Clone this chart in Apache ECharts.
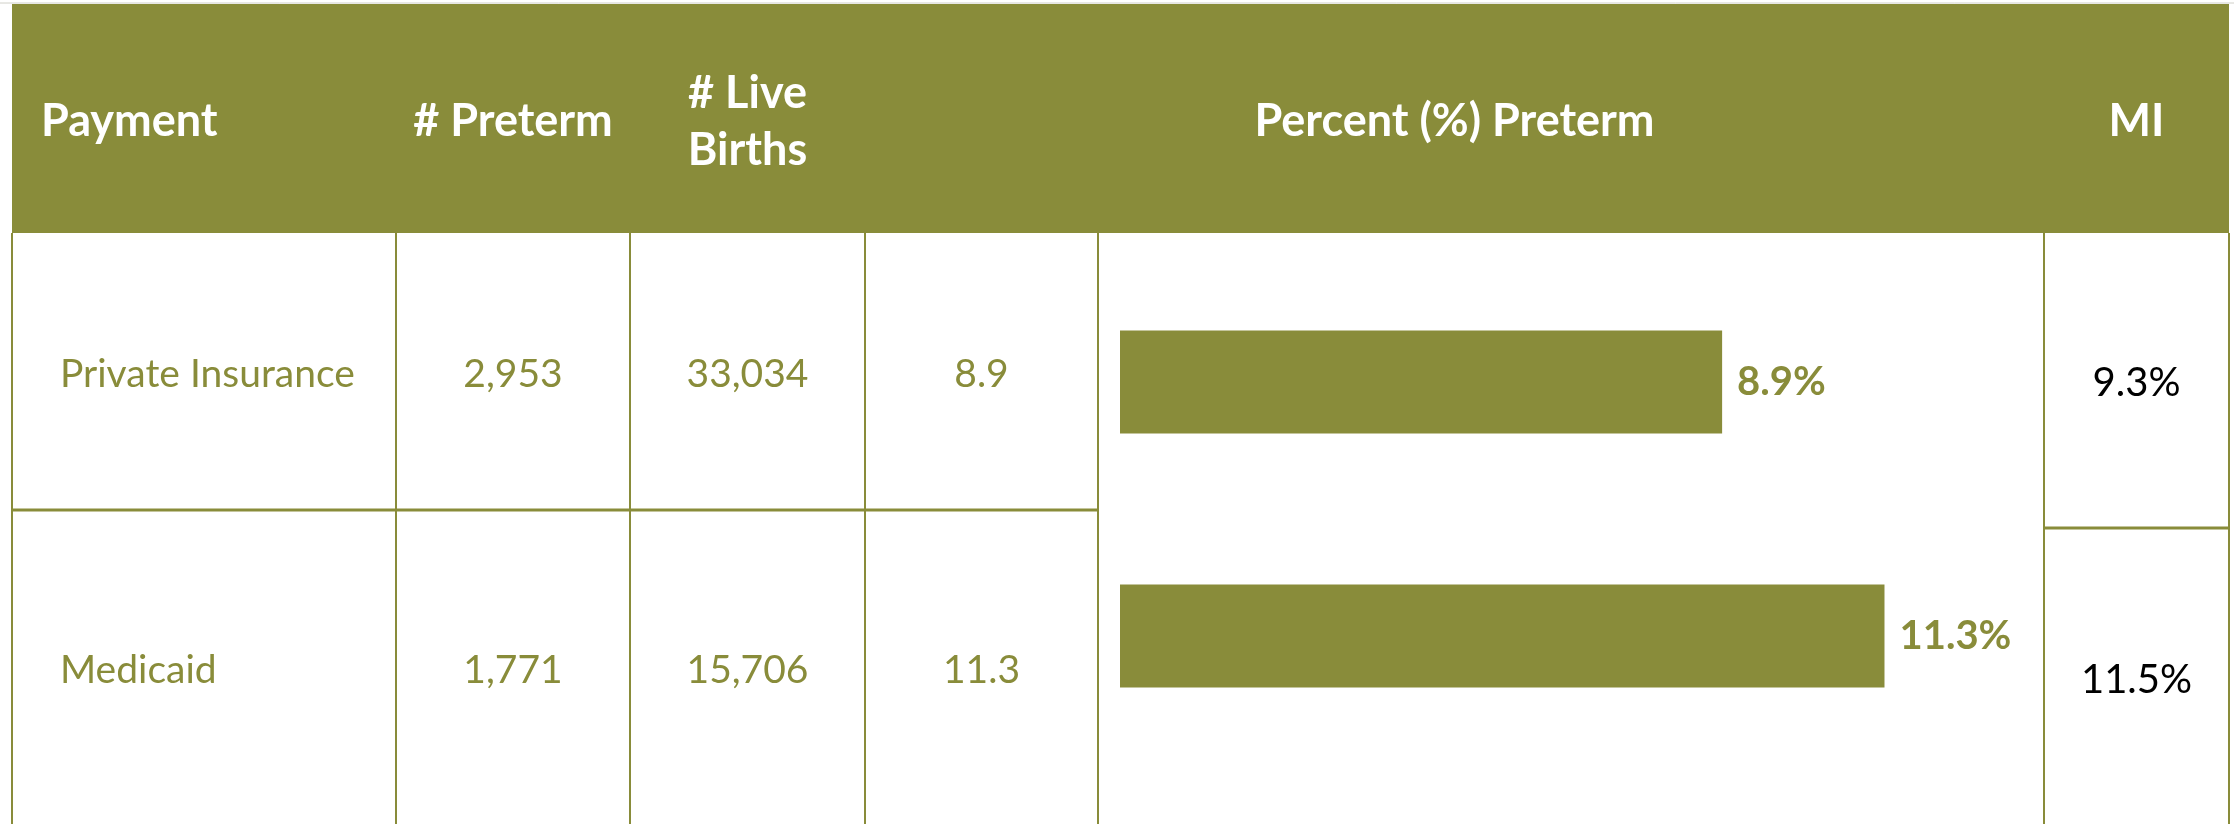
<!DOCTYPE html>
<html>
<head>
<meta charset="utf-8">
<script src="https://cdn.jsdelivr.net/npm/echarts@6/dist/echarts.min.js"></script>
<style>
  html, body { margin: 0; padding: 0; background: #fff; }
  #chart { width: 2234px; height: 824px; }
</style>
</head>
<body>
<div id="chart"></div>
<script>
// table content
const headers = ['Payment', '# Preterm', '# Live\nBirths', 'Percent (%) Preterm', 'MI'];
const payments = ['Private Insurance', 'Medicaid'];
const pretermCounts = ['2,953', '1,771'];
const liveBirths = ['33,034', '15,706'];
const pctPreterm = [8.9, 11.3];
const miPct = [9.3, 11.5];

const olive = '#898c3a';
const font = 'Lato, "Open Sans", sans-serif';

// layout of the table (px)
const colX = [12, 396, 630, 865, 1098, 2044, 2229];
const headTop = 4;
const headBottom = 233;
const rowLine = 510;
const miRowLine = 528;
const rowMid = [374, 670];
const miMid = [383, 680];

const chart = echarts.init(document.getElementById('chart'), null, { renderer: 'canvas' });

function vline(x) {
  return { type: 'line', shape: { x1: x, y1: headBottom, x2: x, y2: 824 }, style: { stroke: olive, lineWidth: 2 } };
}

function hline(x1, x2, y) {
  return { type: 'line', shape: { x1: x1, y1: y, x2: x2, y2: y }, style: { stroke: olive, lineWidth: 3 } };
}

function text(str, x, y, align, opts) {
  return {
    type: 'text',
    x: x,
    y: y,
    style: Object.assign(
      {
        text: str,
        fill: olive,
        font: '39px ' + font,
        textAlign: align,
        textVerticalAlign: 'middle'
      },
      opts || {}
    )
  };
}

const headFont = { fill: '#fff', font: 'bold 45px ' + font };

const elements = [
  { type: 'line', shape: { x1: 0, y1: 3, x2: 2234, y2: 3 }, style: { stroke: '#d0d0c8', lineWidth: 1 } },
  { type: 'rect', shape: { x: colX[0], y: headTop, width: colX[6] - colX[0], height: headBottom - headTop }, style: { fill: olive } },
  text(headers[0], 41, 121, 'left', headFont),
  text(headers[1], (colX[1] + colX[2]) / 2, 121, 'center', headFont),
  text(headers[2], (colX[2] + colX[3]) / 2, 122, 'center', Object.assign({ lineHeight: 57 }, headFont)),
  text(headers[3], (colX[3] + colX[5]) / 2, 121, 'center', headFont),
  text(headers[4], (colX[5] + colX[6]) / 2, 121, 'center', headFont),
  vline(colX[0]),
  vline(colX[1]),
  vline(colX[2]),
  vline(colX[3]),
  vline(colX[4]),
  vline(colX[5]),
  vline(colX[6]),
  hline(colX[0], colX[4], rowLine),
  hline(colX[5], colX[6], miRowLine)
];

payments.forEach((name, i) => {
  elements.push(text(name, 60, rowMid[i], 'left'));
  elements.push(text(pretermCounts[i], (colX[1] + colX[2]) / 2, rowMid[i], 'center'));
  elements.push(text(liveBirths[i], (colX[2] + colX[3]) / 2, rowMid[i], 'center'));
  elements.push(text(pctPreterm[i].toFixed(1), (colX[3] + colX[4]) / 2, rowMid[i], 'center'));
  elements.push(text(miPct[i].toFixed(1) + '%', (colX[5] + colX[6]) / 2, miMid[i], 'center', { fill: '#000', font: '40px ' + font }));
});

chart.setOption({
  backgroundColor: '#fff',
  animation: false,
  graphic: { elements: elements },
  grid: { left: 1120, top: 255, width: 879.5, height: 508 },
  xAxis: { type: 'value', min: 0, max: 13, show: false },
  yAxis: { type: 'category', data: payments, inverse: true, show: false },
  series: [
    {
      type: 'bar',
      data: pctPreterm,
      barWidth: 103,
      itemStyle: { color: olive },
      label: {
        show: true,
        position: 'right',
        distance: 15,
        formatter: '{c}%',
        color: olive,
        fontFamily: font,
        fontWeight: 'bold',
        fontSize: 40
      }
    }
  ]
});
</script>
</body>
</html>
